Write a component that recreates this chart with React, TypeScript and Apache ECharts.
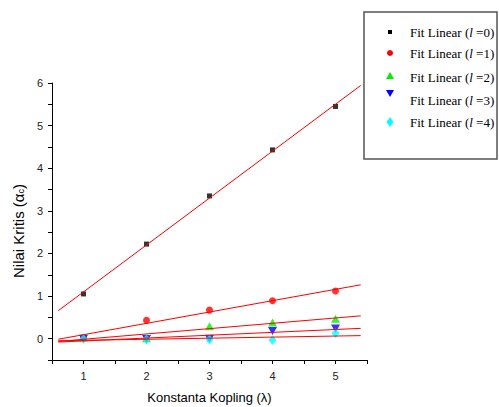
import React, { useEffect, useRef } from "react";
import * as echarts from "echarts";

const X_VALUES = [1, 2, 3, 4, 5];
const L0 = [1.05, 2.22, 3.35, 4.43, 5.45];
const L1 = [0.02, 0.43, 0.67, 0.89, 1.12];
const L2 = [0.03, 0.01, 0.29, 0.38, 0.47];
const L3 = [0.0, -0.01, 0.0, 0.18, 0.24];
const L4 = [0.0, -0.02, -0.02, -0.03, 0.13];
const SERIES_NAMES = [
  "Fit Linear (l =0)",
  "Fit Linear (l =1)",
  "Fit Linear (l =2)",
  "Fit Linear (l =3)",
  "Fit Linear (l =4)",
];
const LEGEND_LABELS = ["0", "1", "2", "3", "4"];
const FIT_RANGE = [0.6, 5.4];
const X_TITLE = "Konstanta Kopling (λ)";

const COLORS = ["#000000", "#ff0000", "#00ee00", "#0000ff", "#00ffff"];

function linFit(xs: number[], ys: number[]) {
  const n = xs.length;
  const mx = xs.reduce((a, b) => a + b, 0) / n;
  const my = ys.reduce((a, b) => a + b, 0) / n;
  let sxy = 0;
  let sxx = 0;
  for (let i = 0; i < n; i++) {
    sxy += (xs[i] - mx) * (ys[i] - my);
    sxx += (xs[i] - mx) * (xs[i] - mx);
  }
  const b = sxy / sxx;
  const a = my - b * mx;
  return FIT_RANGE.map((x) => [x, a + b * x]);
}

export default function App() {
  const ref = useRef<HTMLDivElement>(null);
  useEffect(() => {
    if (!ref.current) return;
    const chart = echarts.init(ref.current, undefined, { renderer: "svg" });
    const all = [L0, L1, L2, L3, L4];
    const symbols: any[] = [
      { symbol: "rect", symbolSize: 5, symbolRotate: 0 },
      { symbol: "circle", symbolSize: 7, symbolRotate: 0 },
      { symbol: "triangle", symbolSize: [9, 8], symbolRotate: 0 },
      { symbol: "triangle", symbolSize: [9, 8], symbolRotate: 180 },
      { symbol: "diamond", symbolSize: [8, 10], symbolRotate: 0 },
    ];
    const scatter = all.map((ys, i) => ({
      type: "scatter",
      name: SERIES_NAMES[i],
      data: X_VALUES.map((x, j) => [x, ys[j]]),
      symbol: symbols[i].symbol,
      symbolSize: symbols[i].symbolSize,
      symbolRotate: symbols[i].symbolRotate,
      itemStyle: { color: COLORS[i] },
      z: 2,
    }));
    const lines = all.map((ys) => ({
      type: "line",
      data: linFit(X_VALUES, ys),
      showSymbol: false,
      symbol: "none",
      lineStyle: { color: "#ff0000", width: 1 },
      z: 3,
      silent: true,
    }));

    const legendX = 364;
    const legendY = 12;
    const rowYs = [32, 53, 77, 100, 122];
    const symYs = [32, 53, 76, 93, 122];
    const legendGraphics: any[] = [
      {
        type: "rect",
        shape: { x: legendX, y: legendY, width: 133, height: 147 },
        style: { fill: "#ffffff", stroke: "#555555", lineWidth: 1.5 },
        z: 10,
      },
      {
        type: "rect",
        shape: { x: 388, y: symYs[0] - 2, width: 4, height: 4 },
        style: { fill: COLORS[0] },
        z: 11,
      },
      {
        type: "circle",
        shape: { cx: 390, cy: symYs[1], r: 3 },
        style: { fill: COLORS[1] },
        z: 11,
      },
      {
        type: "polygon",
        shape: { points: [[390, symYs[2] - 4], [394, symYs[2] + 3], [386, symYs[2] + 3]] },
        style: { fill: COLORS[2] },
        z: 11,
      },
      {
        type: "polygon",
        shape: { points: [[386, symYs[3] - 3], [394, symYs[3] - 3], [390, symYs[3] + 4]] },
        style: { fill: COLORS[3] },
        z: 11,
      },
      {
        type: "polygon",
        shape: { points: [[390, symYs[4] - 5], [393.5, symYs[4]], [390, symYs[4] + 5], [386.5, symYs[4]]] },
        style: { fill: COLORS[4] },
        z: 11,
      },
    ];
    LEGEND_LABELS.forEach((lab, i) => {
      legendGraphics.push({
        type: "text",
        x: 410,
        y: rowYs[i],
        z: 11,
        style: {
          text: "Fit Linear ({i|l} =" + lab + ")",
          font: '13px "Liberation Serif", "Times New Roman", serif',
          fill: "#000",
          verticalAlign: "middle",
          align: "left",
          rich: {
            i: {
              fontStyle: "italic",
              fontSize: 13,
              fontFamily: '"Liberation Serif", "Times New Roman", serif',
            },
          },
        },
      });
    });
    legendGraphics.push({
      type: "text",
      x: 18,
      y: 231,
      rotation: Math.PI / 2,
      z: 11,
      style: {
        text: "Nilai Kritis (α{sub|c})",
        font: '15px "Liberation Sans", Arial, sans-serif',
        fill: "#000",
        align: "center",
        verticalAlign: "middle",
        rich: {
          sub: {
            fontSize: 9,
            fontFamily: '"Liberation Sans", Arial, sans-serif',
            verticalAlign: "bottom",
            padding: [6, 0, 0, 0],
          },
        },
      },
    });

    const intFmt = (v: number) =>
      Math.abs(v - Math.round(v)) < 1e-6 ? String(Math.round(v)) : "";

    chart.setOption({
      animation: false,
      backgroundColor: "#ffffff",
      grid: {
        left: 52,
        top: 83,
        width: 315,
        height: 277,
        containLabel: false,
        outerBoundsMode: "none",
      },
      xAxis: {
        type: "value",
        min: 0.5,
        max: 5.5,
        interval: 0.5,
        name: X_TITLE,
        nameLocation: "middle",
        nameGap: 31,
        nameTextStyle: {
          fontSize: 13,
          fontFamily: '"Liberation Sans", Arial, sans-serif',
          color: "#000",
        },
        axisLine: { show: true, onZero: false, lineStyle: { color: "#000", width: 1 } },
        axisTick: { show: true, length: 4, inside: false, lineStyle: { color: "#000" } },
        axisLabel: {
          formatter: intFmt,
          margin: 10,
          fontSize: 11,
          fontFamily: '"Liberation Sans", Arial, sans-serif',
          color: "#222",
          showMinLabel: true,
          showMaxLabel: true,
        },
        splitLine: { show: false },
      },
      yAxis: {
        type: "value",
        min: -0.5,
        max: 6,
        interval: 0.5,
        axisLine: { show: true, onZero: false, lineStyle: { color: "#000", width: 1 } },
        axisTick: { show: true, length: 4, inside: false, lineStyle: { color: "#000" } },
        axisLabel: {
          formatter: intFmt,
          margin: 9,
          fontSize: 11,
          fontFamily: '"Liberation Sans", Arial, sans-serif',
          color: "#222",
        },
        splitLine: { show: false },
      },
      series: [...scatter, ...lines],
      graphic: legendGraphics,
    });
    return () => chart.dispose();
  }, []);
  return (
    <div
      ref={ref}
      style={{ position: "fixed", left: 0, top: 0, width: 499, height: 407 }}
    />
  );
}
